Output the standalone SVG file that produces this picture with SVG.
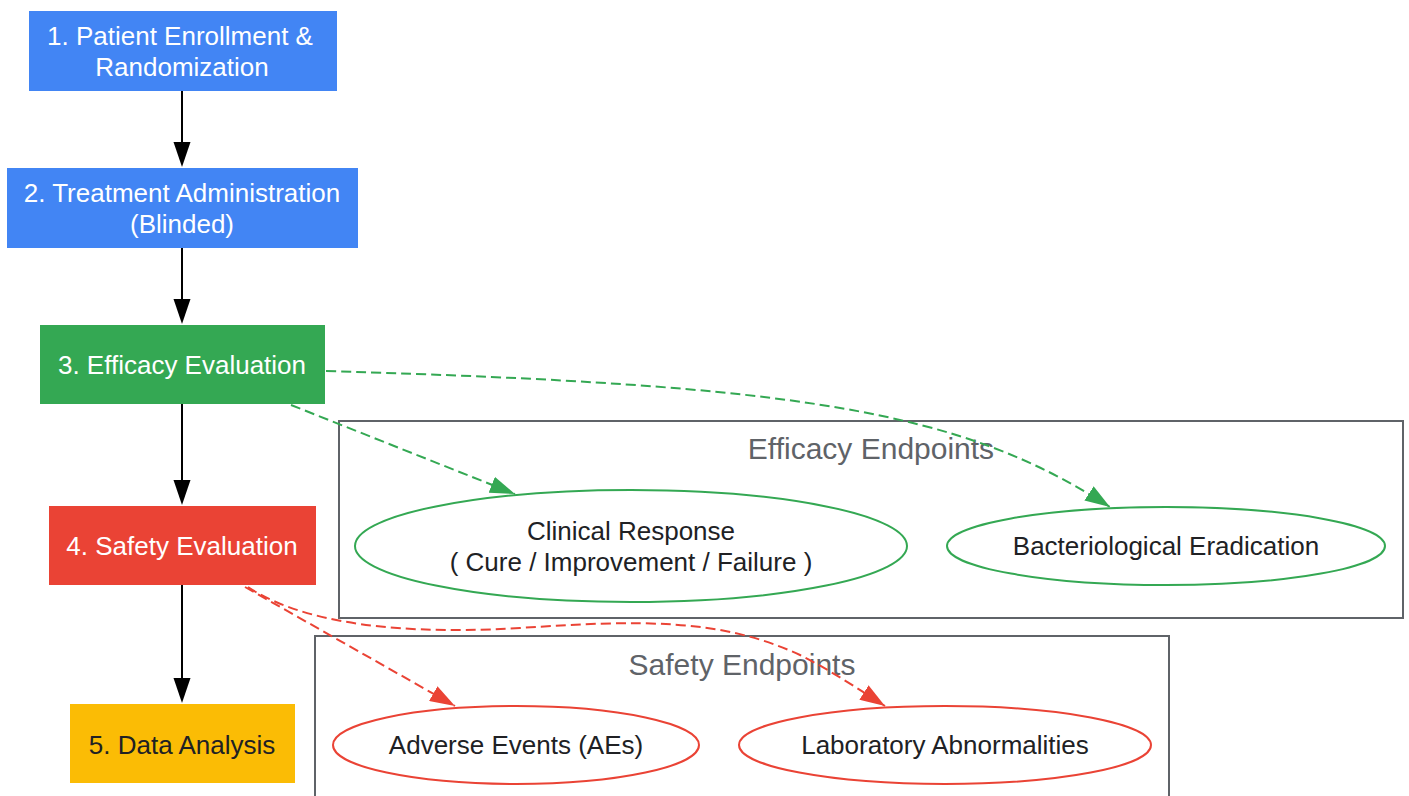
<svg xmlns="http://www.w3.org/2000/svg" width="1409" height="796" viewBox="0 0 1409 796">
<style>
text{font-family:"Liberation Sans",Arial,sans-serif;font-size:26px;text-anchor:middle;dominant-baseline:central}
.w{fill:#ffffff}
.d{fill:#202124}
.cl{fill:none;stroke:#5f6368;stroke-width:2}
.ct{fill:#5f6368;font-size:30px}
.e{fill:none;stroke-width:2}
.k{stroke:#000;stroke-width:2;fill:none}
.g{stroke:#34A853;stroke-width:2;fill:none;stroke-dasharray:10,5}
.r{stroke:#EA4335;stroke-width:2;fill:none;stroke-dasharray:10,5}
</style>
<defs>
<marker id="ag" markerWidth="25" markerHeight="17" refX="25" refY="8.5" orient="auto" markerUnits="userSpaceOnUse" viewBox="0 0 25 17"><path d="M0,0 L25,8.5 L0,17 Z" fill="#34A853"/></marker>
<marker id="ar" markerWidth="25" markerHeight="17" refX="25" refY="8.5" orient="auto" markerUnits="userSpaceOnUse" viewBox="0 0 25 17"><path d="M0,0 L25,8.5 L0,17 Z" fill="#EA4335"/></marker>
</defs>
<rect width="1409" height="796" fill="#fff"/>
<g id="cluster-efficacy">
<rect class="cl" x="339" y="421" width="1064" height="197"/>
<text class="ct" x="871" y="448">Efficacy Endpoints</text>
</g>
<g id="cluster-safety">
<rect class="cl" x="315" y="636" width="854" height="170"/>
<text class="ct" x="742" y="664">Safety Endpoints</text>
</g>
<g id="connectors">
<path class="k" d="M182,91 L182,145"/>
<path class="k" d="M182,248 L182,302"/>
<path class="k" d="M182,404 L182,483"/>
<path class="k" d="M182,585 L182,681"/>
<path d="M173.5,142 L190.5,142 L182,167 Z" fill="#000"/>
<path d="M173.5,299 L190.5,299 L182,324 Z" fill="#000"/>
<path d="M173.5,480 L190.5,480 L182,505 Z" fill="#000"/>
<path d="M173.5,678 L190.5,678 L182,703 Z" fill="#000"/>
<path class="g" d="M291,405 L515,494" marker-end="url(#ag)"/>
<path class="g" d="M326,371 C800,385 960,410 1110,507" marker-end="url(#ag)"/>
<path class="r" d="M245,587 L455,706" marker-end="url(#ar)"/>
<path class="r" d="M248,587 C290,615 370,637 520,628 C640,620 720,618 800,655 C830,670 860,690 885,706" marker-end="url(#ar)"/>
</g>
<g id="n1">
<rect x="29" y="11" width="308" height="80" fill="#4285F4"/>
<text class="w" x="180" y="36">1. Patient Enrollment &amp;</text>
<text class="w" x="182" y="67">Randomization</text>
</g>
<g id="n2">
<rect x="7" y="168" width="351" height="80" fill="#4285F4"/>
<text class="w" x="182" y="193">2. Treatment Administration</text>
<text class="w" x="182" y="224">(Blinded)</text>
</g>
<g id="n3">
<rect x="40" y="325" width="285" height="79" fill="#34A853"/>
<text class="w" x="182" y="365">3. Efficacy Evaluation</text>
</g>
<g id="n4">
<rect x="49" y="506" width="267" height="79" fill="#EA4335"/>
<text class="w" x="182" y="546">4. Safety Evaluation</text>
</g>
<g id="n5">
<rect x="70" y="704" width="225" height="79" fill="#FBBC05"/>
<text class="d" x="182" y="745">5. Data Analysis</text>
</g>
<g id="clinical">
<ellipse class="e" cx="631" cy="546" rx="276" ry="56" stroke="#34A853"/>
<text class="d" x="631" y="531">Clinical Response</text>
<text class="d" x="631" y="562">( Cure / Improvement / Failure )</text>
</g>
<g id="bacterio">
<ellipse class="e" cx="1166" cy="546" rx="219" ry="39" stroke="#34A853"/>
<text class="d" x="1166" y="546">Bacteriological Eradication</text>
</g>
<g id="aes">
<ellipse class="e" cx="516" cy="745" rx="183" ry="39" stroke="#EA4335"/>
<text class="d" x="516" y="745">Adverse Events (AEs)</text>
</g>
<g id="lab">
<ellipse class="e" cx="945" cy="745" rx="206" ry="39" stroke="#EA4335"/>
<text class="d" x="945" y="745">Laboratory Abnormalities</text>
</g>
</svg>
